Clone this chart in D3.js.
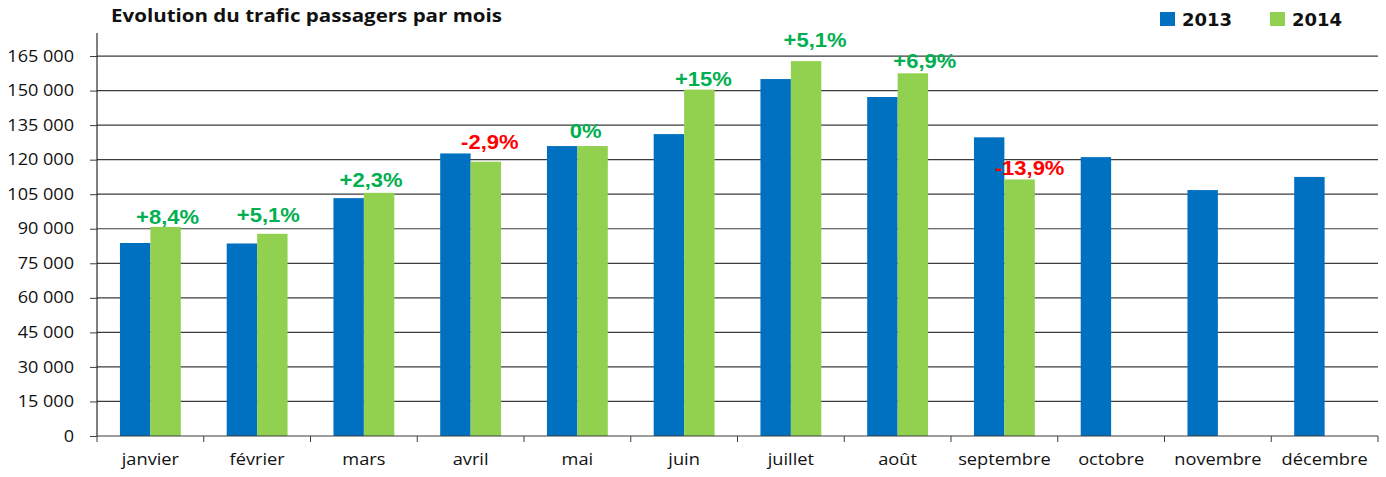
<!DOCTYPE html>
<html>
<head>
<meta charset="utf-8">
<script src="https://cdn.jsdelivr.net/npm/d3@7"></script>
<style>
  body { margin: 0; background: #fff; }
  text { font-family: "Open Sans", sans-serif; }
</style>
</head>
<body>
<div id="chart"></div>
<script>
const months = ['janvier', 'février', 'mars', 'avril', 'mai', 'juin', 'juillet', 'août', 'septembre', 'octobre', 'novembre', 'décembre'];
const years = ['2013', '2014'];
const values2013 = [83800, 83600, 103300, 122700, 125900, 131100, 155000, 147200, 129700, 121100, 106800, 112500];
const values2014 = [90800, 87800, 105600, 119100, 125900, 150400, 162800, 157500, 111400, null, null, null];
const changeLabels = ['+8,4%', '+5,1%', '+2,3%', '-2,9%', '0%', '+15%', '+5,1%', '+6,9%', '-13,9%', null, null, null];
const yTicks = [0, 15000, 30000, 45000, 60000, 75000, 90000, 105000, 120000, 135000, 150000, 165000];

// label nudges (px), the labels were dragged by hand in the original
const labelDx = [2, -4, -8, 4, -7, 4, 9, 12, 10];
const labelGap = [3, 12, 6, 13, 8, 4, 14, 5, 4];

const w = 1386;
const h = 477;
const plotLeft = 97, plotRight = 1378, plotTop = 33, plotBottom = 436;
const colors = { '2013': '#0070C0', '2014': '#92D050' };

const svg = d3.select('#chart')
    .append('svg')
    .attr('width', w)
    .attr('height', h);

// Scales
const xScale = d3.scaleBand()
    .domain(months)
    .range([plotLeft, plotRight])
    .paddingInner(0)
    .paddingOuter(0);

const xInner = d3.scaleBand()
    .domain(years)
    .range([0, xScale.bandwidth()])
    .paddingOuter(0.754)
    .paddingInner(0);

const yScale = d3.scaleLinear()
    .domain([0, 175000])
    .range([plotBottom, plotTop]);

// Gridlines
svg.append('g')
    .selectAll('line')
    .data(yTicks.slice(1))
    .enter()
    .append('line')
    .attr('x1', plotLeft)
    .attr('x2', plotRight)
    .attr('y1', d => yScale(d))
    .attr('y2', d => yScale(d))
    .attr('stroke', '#3c3c3c')
    .attr('stroke-width', 1.2);

// Bars
const rows = months.map((m, i) => ({ i: i, month: m, v2013: values2013[i], v2014: values2014[i], label: changeLabels[i] }));

const groups = svg.append('g')
    .selectAll('g')
    .data(rows)
    .enter()
    .append('g')
    .attr('transform', d => `translate(${xScale(d.month)}, 0)`);

groups.selectAll('rect')
    .data(d => years.map(y => ({ year: y, value: d['v' + y] })).filter(e => e.value != null))
    .enter()
    .append('rect')
    .attr('x', d => xInner(d.year))
    .attr('y', d => yScale(d.value))
    .attr('width', xInner.bandwidth())
    .attr('height', d => plotBottom - yScale(d.value))
    .attr('fill', d => colors[d.year]);

// Change labels
groups.filter(d => d.label)
    .append('text')
    .attr('transform', d => {
        const x = xInner('2014') + xInner.bandwidth() / 2 + labelDx[d.i];
        const y = yScale(d.v2014) - labelGap[d.i];
        return `translate(${x}, ${y}) scale(1.1, 1)`;
    })
    .attr('text-anchor', 'middle')
    .style('font-family', '"Liberation Sans", Arial, sans-serif')
    .style('font-weight', 'bold')
    .style('font-size', '20px')
    .attr('fill', d => d.label.startsWith('-') ? '#FF0000' : '#00B050')
    .text(d => d.label);

// Axes
const yAxis = d3.axisLeft(yScale)
    .tickValues(yTicks)
    .tickSize(7)
    .tickPadding(16)
    .tickFormat(d => d3.format(',')(d).replace(/,/g, ' '));

const yg = svg.append('g')
    .attr('transform', `translate(${plotLeft}, 0)`)
    .call(yAxis);
yg.select('.domain').attr('d', `M0,${plotTop}V${plotBottom}`).attr('stroke', '#000');
yg.selectAll('.tick line').attr('stroke', '#3c3c3c');
yg.selectAll('text')
    .attr('x', null)
    .attr('transform', 'translate(-23, 0) scale(1.13, 1)')
    .style('font-size', '16px')
    .attr('fill', '#111');

const xAxis = d3.axisBottom(xScale).tickSize(0).tickPadding(18);
const xg = svg.append('g')
    .attr('transform', `translate(0, ${plotBottom})`)
    .call(xAxis);
xg.select('.domain').attr('d', `M${plotLeft},0H${plotRight}`).attr('stroke', '#3c3c3c').attr('stroke-width', 1.2);
xg.selectAll('text')
    .attr('transform', 'scale(1.14, 1)')
    .style('font-size', '16px')
    .attr('fill', '#111');
xg.selectAll('.tick')
    .attr('transform', d => `translate(${xScale(d) + xScale.bandwidth() / 2}, 0)`);

// tick marks at category boundaries
xg.append('g')
    .selectAll('line')
    .data(months.map(m => xScale(m)).concat([plotRight]))
    .enter()
    .append('line')
    .attr('x1', d => d)
    .attr('x2', d => d)
    .attr('y1', 0)
    .attr('y2', 6)
    .attr('stroke', '#3c3c3c');

// Title
svg.append('text')
    .attr('x', 111)
    .attr('y', 22)
    .attr('textLength', 391)
    .attr('lengthAdjust', 'spacingAndGlyphs')
    .style('font-weight', 'bold')
    .style('font-size', '17px')
    .attr('fill', '#111')
    .text('Evolution du trafic passagers par mois');

// Legend
const legend = svg.append('g')
    .attr('transform', 'translate(1160, 0)');

years.forEach((y, i) => {
    legend.append('rect')
        .attr('x', i * 110)
        .attr('y', 12)
        .attr('width', 15)
        .attr('height', 14)
        .attr('fill', colors[y]);
    legend.append('text')
        .attr('x', i * 110 + 22)
        .attr('y', 26)
        .style('font-family', '"DejaVu Sans", sans-serif')
        .style('font-weight', 'bold')
        .style('font-size', '18px')
        .attr('fill', '#111')
        .text(y);
});
</script>
</body>
</html>
